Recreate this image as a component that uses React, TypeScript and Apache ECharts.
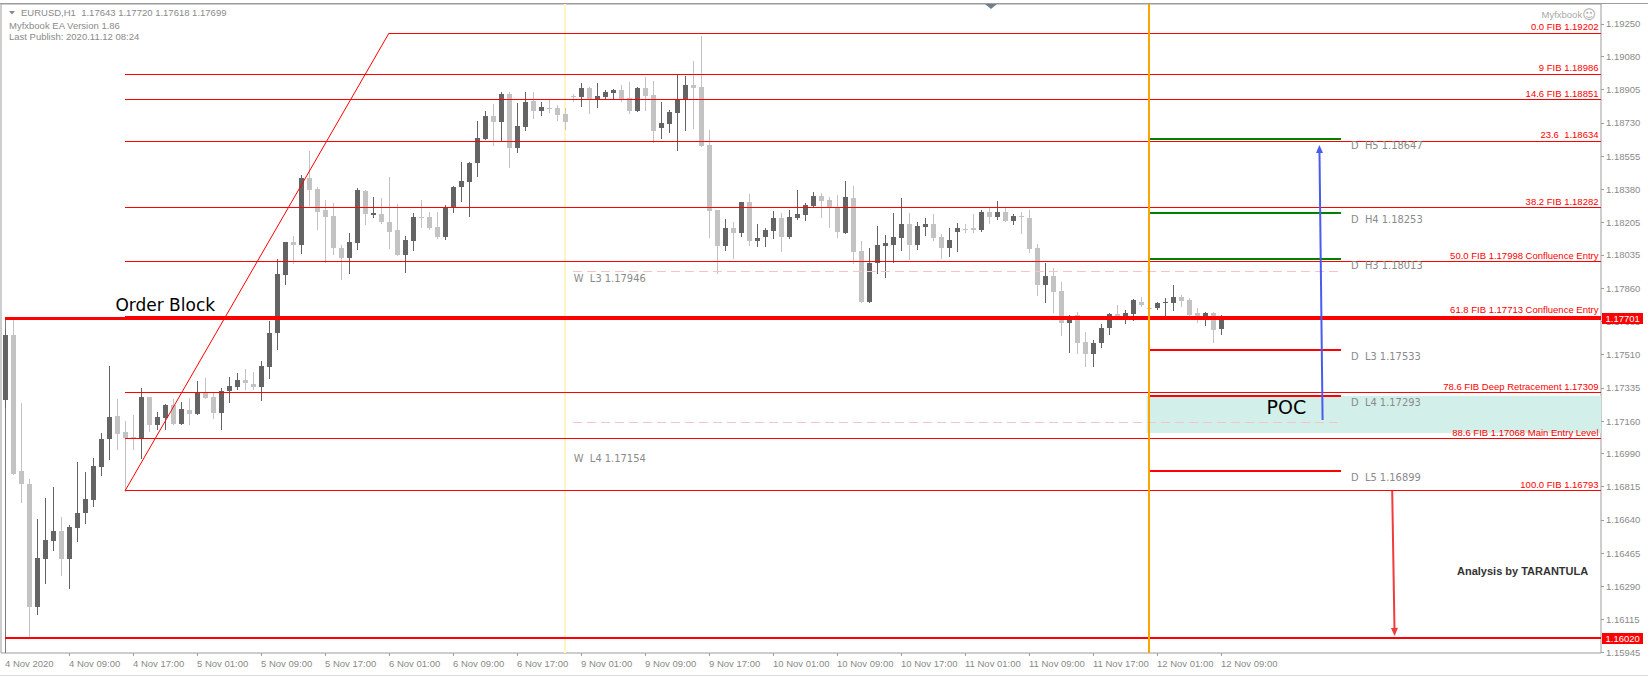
import { useEffect, useRef } from "react";
import * as echarts from "echarts";

// ---------- DATA ----------
// EURUSD H1 candles, 4 Nov 2020 01:00 (bar 0) .. 12 Nov 2020 09:00 (bar 152)
const opens = [
  1.17271, 1.17612, 1.16897, 1.16829, 1.16182, 1.16436, 1.1653, 1.16582, 1.16436, 1.16599,
  1.16676, 1.16746, 1.1692, 1.17064, 1.17187, 1.17103, 1.17078, 1.17071, 1.17287, 1.17141,
  1.17178, 1.17245, 1.17146, 1.17218, 1.17199, 1.1731, 1.17288, 1.17204, 1.1732, 1.17341,
  1.17376, 1.17355, 1.17341, 1.17446, 1.17622, 1.17929, 1.18103, 1.18088, 1.18438, 1.18382,
  1.18271, 1.1824, 1.18073, 1.1802, 1.18099, 1.18371, 1.18246, 1.18248, 1.18206, 1.18166,
  1.18034, 1.1811, 1.18236, 1.18234, 1.18181, 1.18131, 1.18283, 1.18392, 1.1842, 1.18517,
  1.18646, 1.18767, 1.18736, 1.18882, 1.18599, 1.1871, 1.18843, 1.18794, 1.1881, 1.18807,
  1.18776, 1.18873, 1.18867, 1.18913, 1.18854, 1.18867, 1.18889, 1.18903, 1.18859, 1.18792,
  1.18912, 1.18876, 1.18703, 1.18724, 1.18783, 1.1885, 1.18929, 1.18918, 1.18613, 1.18271,
  1.18082, 1.18175, 1.18152, 1.18311, 1.18108, 1.18131, 1.18162, 1.18227, 1.18131, 1.18227,
  1.18245, 1.18292, 1.18345, 1.18324, 1.18285, 1.18152, 1.18334, 1.18055, 1.17789, 1.17994,
  1.18083, 1.18087, 1.18125, 1.18197, 1.18087, 1.18183, 1.18197, 1.18127, 1.18073, 1.18154,
  1.18173, 1.18175, 1.18166, 1.18259, 1.18236, 1.18259, 1.18215, 1.1824, 1.18231, 1.1807,
  1.17876, 1.17924, 1.17845, 1.17675, 1.17719, 1.17575, 1.17512, 1.1757, 1.17648, 1.17722,
  1.1771, 1.17724, 1.17788, 1.17757, 1.17753, 1.1778, 1.17783, 1.17813, 1.17797, 1.17727,
  1.17692, 1.17727, 1.17643,
];
const highs = [
  1.1764, 1.17708, 1.17255, 1.16855, 1.16645, 1.16755, 1.16813, 1.16655, 1.16613, 1.16945,
  1.16892, 1.16966, 1.17097, 1.1745, 1.17276, 1.17161, 1.17192, 1.17334, 1.17289, 1.17208,
  1.1725, 1.17276, 1.17261, 1.17282, 1.17371, 1.17387, 1.17308, 1.17334, 1.17392, 1.17413,
  1.17434, 1.17418, 1.17476, 1.17687, 1.18013, 1.18103, 1.18134, 1.18455, 1.18582, 1.18392,
  1.18324, 1.18308, 1.18087, 1.1815, 1.18387, 1.18376, 1.18339, 1.18334, 1.18445, 1.18303,
  1.18132, 1.18255, 1.18324, 1.18261, 1.18261, 1.18297, 1.18397, 1.18524, 1.18524, 1.1874,
  1.18792, 1.18829, 1.18892, 1.18892, 1.18834, 1.18892, 1.18892, 1.1884, 1.18855, 1.18824,
  1.18808, 1.18882, 1.1894, 1.18918, 1.1894, 1.18903, 1.18908, 1.18929, 1.18945, 1.18918,
  1.18971, 1.1895, 1.1884, 1.18797, 1.18987, 1.18976, 1.19055, 1.19187, 1.18692, 1.18271,
  1.18224, 1.18208, 1.18313, 1.18355, 1.18197, 1.18176, 1.18266, 1.18255, 1.18271, 1.18376,
  1.18308, 1.18366, 1.18361, 1.18339, 1.1835, 1.18424, 1.18397, 1.18108, 1.18071, 1.18187,
  1.1814, 1.18255, 1.18334, 1.18254, 1.18208, 1.18229, 1.1825, 1.18145, 1.18176, 1.18203,
  1.18197, 1.1825, 1.18271, 1.18282, 1.18318, 1.18282, 1.1825, 1.18261, 1.18271, 1.18092,
  1.17992, 1.17966, 1.17892, 1.17719, 1.17734, 1.17629, 1.17587, 1.17671, 1.17729, 1.17771,
  1.17745, 1.17803, 1.17813, 1.17782, 1.17787, 1.17808, 1.17876, 1.17824, 1.17808, 1.17755,
  1.17734, 1.17734, 1.1772,
];
const lows = [
  1.17234, 1.1688, 1.16734, 1.16025, 1.16145, 1.16308, 1.16482, 1.1635, 1.16282, 1.16529,
  1.16624, 1.16713, 1.16876, 1.16961, 1.17013, 1.16793, 1.17013, 1.16966, 1.1711, 1.17119,
  1.17119, 1.17145, 1.17145, 1.17145, 1.17197, 1.17282, 1.17176, 1.17119, 1.17261, 1.17329,
  1.17329, 1.17329, 1.17271, 1.17387, 1.1754, 1.17882, 1.17992, 1.18045, 1.18297, 1.18171,
  1.17997, 1.1804, 1.17908, 1.1794, 1.18066, 1.18197, 1.18234, 1.18203, 1.18071, 1.18034,
  1.17945, 1.18061, 1.18182, 1.18171, 1.18124, 1.18118, 1.18261, 1.18318, 1.1824, 1.1845,
  1.18645, 1.18613, 1.1864, 1.18497, 1.18576, 1.18692, 1.18755, 1.18771, 1.18787, 1.18745,
  1.18697, 1.18845, 1.18818, 1.18782, 1.18813, 1.18855, 1.18855, 1.18845, 1.18782, 1.18792,
  1.18797, 1.18629, 1.1865, 1.18682, 1.18587, 1.18692, 1.18703, 1.18608, 1.18129, 1.1794,
  1.18061, 1.18018, 1.18134, 1.18087, 1.18082, 1.18082, 1.18124, 1.18055, 1.18124, 1.18224,
  1.18218, 1.18287, 1.18234, 1.18182, 1.18129, 1.1815, 1.17992, 1.17787, 1.17787, 1.1794,
  1.17918, 1.17997, 1.18061, 1.18013, 1.18066, 1.1814, 1.18113, 1.18018, 1.18029, 1.18055,
  1.18155, 1.18155, 1.18161, 1.18203, 1.18224, 1.18213, 1.18197, 1.1815, 1.1805, 1.17824,
  1.17787, 1.17734, 1.17613, 1.17524, 1.17518, 1.1745, 1.1745, 1.1755, 1.17618, 1.17708,
  1.17676, 1.17692, 1.17766, 1.17734, 1.1775, 1.17719, 1.17745, 1.17766, 1.17708, 1.17682,
  1.17666, 1.17575, 1.17618,
];
const closes = [
  1.17613, 1.16882, 1.16829, 1.16182, 1.1644, 1.16534, 1.16582, 1.16436, 1.16603, 1.16678,
  1.1675, 1.16925, 1.17066, 1.17182, 1.17094, 1.17073, 1.17071, 1.17287, 1.17141, 1.17182,
  1.17245, 1.17146, 1.17224, 1.17196, 1.1731, 1.17283, 1.17204, 1.1732, 1.17343, 1.17376,
  1.17359, 1.17341, 1.1745, 1.17622, 1.17933, 1.18103, 1.18088, 1.18438, 1.18376, 1.18262,
  1.18236, 1.18073, 1.1802, 1.18101, 1.18376, 1.18248, 1.18253, 1.18206, 1.18157, 1.18034,
  1.18112, 1.18234, 1.1823, 1.18178, 1.18131, 1.18287, 1.18392, 1.18424, 1.18518, 1.1865,
  1.18767, 1.18736, 1.18882, 1.18599, 1.18713, 1.18838, 1.18794, 1.18812, 1.18805, 1.18773,
  1.18736, 1.18869, 1.18912, 1.1885, 1.18871, 1.18891, 1.18903, 1.1885, 1.18792, 1.18912,
  1.18873, 1.18687, 1.18729, 1.18788, 1.18854, 1.18929, 1.18915, 1.18608, 1.18267, 1.18082,
  1.18175, 1.18152, 1.18311, 1.18108, 1.18122, 1.18166, 1.18227, 1.18131, 1.18233, 1.1825,
  1.18297, 1.18345, 1.1832, 1.18283, 1.18155, 1.18339, 1.18052, 1.17789, 1.17994, 1.18087,
  1.18096, 1.18127, 1.18197, 1.18087, 1.18187, 1.18197, 1.18122, 1.18073, 1.18113, 1.18175,
  1.18169, 1.18166, 1.18259, 1.18236, 1.18259, 1.18215, 1.1824, 1.18233, 1.18066, 1.17876,
  1.17924, 1.17841, 1.17675, 1.17715, 1.17573, 1.17512, 1.1757, 1.17648, 1.17722, 1.1771,
  1.17727, 1.17797, 1.17771, 1.17753, 1.1778, 1.17785, 1.17813, 1.17794, 1.17719, 1.17692,
  1.17727, 1.1764, 1.17699,
];

const xTickBars = [0, 8, 16, 24, 32, 40, 48, 56, 64, 72, 80, 88, 96, 104, 112, 120, 128, 136, 144, 152];
const xTickLabels = [
  "4 Nov 2020", "4 Nov 09:00", "4 Nov 17:00", "5 Nov 01:00", "5 Nov 09:00", "5 Nov 17:00",
  "6 Nov 01:00", "6 Nov 09:00", "6 Nov 17:00", "9 Nov 01:00", "9 Nov 09:00", "9 Nov 17:00",
  "10 Nov 01:00", "10 Nov 09:00", "10 Nov 17:00", "11 Nov 01:00", "11 Nov 09:00", "11 Nov 17:00",
  "12 Nov 01:00", "12 Nov 09:00",
];
const yTickValues = [
  1.1925, 1.1908, 1.18905, 1.1873, 1.18555, 1.1838, 1.18205, 1.18035, 1.1786, 1.17685,
  1.1751, 1.17335, 1.1716, 1.1699, 1.16815, 1.1664, 1.16465, 1.1629, 1.16115, 1.15945,
];

const fibPrices = [1.19202, 1.18986, 1.18851, 1.18634, 1.18282, 1.17998, 1.17713, 1.17309, 1.17068, 1.16793];
const fibTexts = [
  "0.0 FIB 1.19202", "9 FIB 1.18986", "14.6 FIB 1.18851", "23.6  1.18634", "38.2 FIB 1.18282",
  "50.0 FIB 1.17998 Confluence Entry", "61.8 FIB 1.17713 Confluence Entry",
  "78.6 FIB Deep Retracement 1.17309", "88.6 FIB 1.17068 Main Entry Level", "100.0 FIB 1.16793",
];
const fibAnchorBars = [15, 48];
const fibLineStartBars = [48, 15, 15, 15, 15, 15, 15, 15, 15, 15];

const orderBlockPrices = [1.17701, 1.1602];
const orderBlockStartBar = 0;

const dailyPivotNames = ["H5", "H4", "H3", "L3", "L4", "L5"];
const dailyPivotPrices = [1.18647, 1.18253, 1.18013, 1.17533, 1.17293, 1.16899];
const dailyPivotBars = [143, 167];
const dailyPivotLabelBar = 168.25;

const weeklyPivotNames = ["L3", "L4"];
const weeklyPivotPrices = [1.17946, 1.17154];
const weeklyPivotBars = [71, 167];

const pocRange = [1.17293, 1.17098];
const pocStartBar = 142.7;
const pocLabel = { bar: 157.7, price: 1.17236 };
const orderBlockLabelBar = 13.8;

const dayStartBar = 143;
const weekEndBar = 70;

const blueArrow: [number, number][] = [[164.7, 1.17166], [164.3, 1.18613]];
const redArrow: [number, number][] = [[173.4, 1.16793], [173.7, 1.1603]];

const axisPriceTags = [1.17701, 1.1602];

// ---------- LAYOUT / STYLE ----------
const X_MIN = -0.5;
const X_MAX = 199.5;
const Y_MIN = 1.1594;
const Y_MAX = 1.19355;
const FONT = "'Liberation Sans', Arial, sans-serif";
const LABEL_FONT = "11px 'DejaVu Sans Condensed', 'Liberation Sans', Arial, sans-serif";
const weeklyLabelDy = [6.7, 36];
const RED = "#ff0000";
const GREEN = "#008000";
const BULL = "#646464";
const BEAR = "#c3c3c3";

type Seg = [number, number, number, number];

function crisp(v: number, w: number) {
  return Math.round(w) % 2 === 1 ? Math.floor(v) + 0.5 : Math.round(v);
}

function segmentSeries(segs: Seg[], style: any, z: number) {
  return {
    type: "custom",
    z,
    silent: true,
    clip: false,
    data: segs,
    renderItem: (params: any, api: any) => {
      const s = segs[params.dataIndex];
      const a = api.coord([s[0], s[1]]);
      const b = api.coord([s[2], s[3]]);
      let x1 = a[0], y1 = a[1], x2 = b[0], y2 = b[1];
      if (s[1] === s[3]) { y1 = y2 = crisp(a[1], style.lineWidth); }
      if (s[0] === s[2]) { x1 = x2 = crisp(a[0], style.lineWidth); }
      return { type: "line", shape: { x1, y1, x2, y2 }, style: { ...style, fill: null } };
    },
  };
}

interface TextItem { bar: number; price: number; text: string; dx: number; dy: number }

function textSeries(items: TextItem[], style: any, z: number) {
  return {
    type: "custom",
    z,
    silent: true,
    clip: false,
    data: items.map((t) => [t.bar, t.price]),
    renderItem: (params: any, api: any) => {
      const t = items[params.dataIndex];
      const p = api.coord([t.bar, t.price]);
      return {
        type: "text",
        style: {
          text: t.text,
          x: p[0] + t.dx,
          y: p[1] + t.dy,
          fill: style.fill,
          font: style.font,
          align: style.align,
          verticalAlign: style.verticalAlign,
          textAlign: style.align,
          textVerticalAlign: style.verticalAlign,
        },
      };
    },
  };
}

function arrowSeries(pts: [number, number][], color: string, z: number) {
  return {
    type: "custom",
    z,
    silent: true,
    clip: false,
    data: [[pts[0][0], pts[0][1], pts[1][0], pts[1][1]]],
    renderItem: (_params: any, api: any) => {
      const a = api.coord(pts[0]);
      const b = api.coord(pts[1]);
      const ang = Math.atan2(b[1] - a[1], b[0] - a[0]);
      const L = 8, W = 3.5;
      const bx = b[0] - L * Math.cos(ang), by = b[1] - L * Math.sin(ang);
      const px = -Math.sin(ang) * W, py = Math.cos(ang) * W;
      return {
        type: "group",
        children: [
          { type: "line", shape: { x1: a[0], y1: a[1], x2: bx, y2: by }, style: { stroke: color, lineWidth: 2 } },
          { type: "polygon", shape: { points: [[b[0], b[1]], [bx + px, by + py], [bx - px, by - py]] }, style: { fill: color } },
        ],
      };
    },
  };
}

function buildOption() {
  const candleData = opens.map((o, i) => [i, o, closes[i], lows[i], highs[i]]);

  const candleSeries = {
    type: "custom",
    z: 3,
    silent: true,
    data: candleData,
    renderItem: (params: any, api: any) => {
      const i = params.dataIndex;
      const o = opens[i], c = closes[i], h = highs[i], l = lows[i];
      const cx = Math.round(api.coord([i, o])[0]);
      const yO = Math.round(api.coord([i, o])[1]);
      const yC = Math.round(api.coord([i, c])[1]);
      const yH = Math.round(api.coord([i, h])[1]);
      const yL = Math.round(api.coord([i, l])[1]);
      const col = c >= o ? BULL : BEAR;
      const top = Math.min(yO, yC);
      const bot = Math.max(yO, yC);
      return {
        type: "group",
        children: [
          { type: "rect", shape: { x: cx, y: yH, width: 1, height: Math.max(1, yL - yH + 1) }, style: { fill: col } },
          { type: "rect", shape: { x: cx - 2, y: top, width: 5, height: Math.max(1, bot - top) }, style: { fill: col } },
        ],
      };
    },
  };

  const fibSegs: Seg[] = fibPrices.map((p, k) => [fibLineStartBars[k], p, X_MAX, p]);
  const trendSeg: Seg[] = [[fibAnchorBars[0], fibPrices[fibPrices.length - 1], fibAnchorBars[1], fibPrices[0]]];
  const obTopSeg: Seg[] = [[orderBlockStartBar, orderBlockPrices[0], X_MAX, orderBlockPrices[0]]];
  const obBotSeg: Seg[] = [[orderBlockStartBar, orderBlockPrices[1], X_MAX, orderBlockPrices[1]]];
  const obEdgeSeg: Seg[] = [[orderBlockStartBar, orderBlockPrices[0], orderBlockStartBar, Y_MIN]];
  const greenSegs: Seg[] = [];
  const redPivotSegs: Seg[] = [];
  dailyPivotPrices.forEach((p, k) => {
    const seg: Seg = [dailyPivotBars[0], p, dailyPivotBars[1], p];
    if (dailyPivotNames[k].startsWith("H")) greenSegs.push(seg);
    else redPivotSegs.push(seg);
  });
  const weeklySegs: Seg[] = weeklyPivotPrices.map((p) => [weeklyPivotBars[0], p, weeklyPivotBars[1], p]);

  const pocSeries = {
    type: "custom",
    z: 1,
    silent: true,
    clip: false,
    data: [[pocStartBar, pocRange[0], X_MAX, pocRange[1]]],
    renderItem: (_p: any, api: any) => {
      const a = api.coord([pocStartBar, pocRange[0]]);
      const b = api.coord([X_MAX, pocRange[1]]);
      return { type: "rect", shape: { x: a[0], y: a[1], width: b[0] - a[0], height: b[1] - a[1] }, style: { fill: "#d3efe9" } };
    },
  };

  const fibLabels: TextItem[] = fibPrices.map((p, k) => ({ bar: X_MAX, price: p, text: fibTexts[k], dx: -2.5, dy: -6.6 }));
  const dailyLabels: TextItem[] = dailyPivotPrices.map((p, k) => ({
    bar: dailyPivotLabelBar, price: p, text: `D  ${dailyPivotNames[k]} ${p.toFixed(5)}`, dx: 0, dy: 6.5,
  }));
  const weeklyLabels: TextItem[] = weeklyPivotPrices.map((p, k) => ({
    bar: weeklyPivotBars[0] + 0.1, price: p, text: `W  ${weeklyPivotNames[k]} ${p.toFixed(5)}`, dx: 0, dy: weeklyLabelDy[k],
  }));

  const priceTagSeries = {
    type: "custom",
    z: 20,
    silent: true,
    clip: false,
    data: axisPriceTags.map((p) => [X_MAX, p]),
    renderItem: (params: any, api: any) => {
      const p = axisPriceTags[params.dataIndex];
      const pt = api.coord([X_MAX, p]);
      const y = Math.round(pt[1]);
      return {
        type: "group",
        children: [
          { type: "rect", shape: { x: pt[0] + 1, y: y - 5, width: 41, height: 11 }, style: { fill: RED } },
          {
            type: "text",
            style: {
              text: p.toFixed(5), x: pt[0] + 4.5, y: y + 0.5, fill: "#ffffff", font: `9.5px ${FONT}`,
              align: "left", verticalAlign: "middle", textAlign: "left", textVerticalAlign: "middle",
            },
          },
        ],
      };
    },
  };

  const headerText = `EURUSD,H1  ${opens[152].toFixed(5)} ${highs[152].toFixed(5)} ${lows[152].toFixed(5)} ${closes[152].toFixed(5)}`;
  const hdr = (text: string, x: number, y: number, fill = "#8a8a8a", font = `9.5px ${FONT}`, align = "left") => ({
    type: "text",
    silent: true,
    z: 50,
    style: { text, x, y, fill, font, align, verticalAlign: "middle", textAlign: align, textVerticalAlign: "middle" },
  });

  return {
    animation: false,
    backgroundColor: "#ffffff",
    grid: {
      left: 1, top: 4, width: 1600, height: 649,
      show: true, borderColor: "#9c9c9c", borderWidth: 1, backgroundColor: "#ffffff",
    },
    xAxis: {
      type: "value",
      min: X_MIN,
      max: X_MAX,
      position: "bottom",
      axisLine: { show: false },
      splitLine: { show: false },
      axisTick: { show: true, customValues: xTickBars.slice(1), length: 3, lineStyle: { color: "#9c9c9c" } },
      axisLabel: {
        customValues: xTickBars,
        formatter: (v: number) => {
          const k = xTickBars.indexOf(Math.round(v));
          return k >= 0 ? xTickLabels[k] : "";
        },
        color: "#8a8a8a",
        fontSize: 9.5,
        fontFamily: FONT,
        align: "left",
        margin: 5,
      },
    },
    yAxis: {
      type: "value",
      position: "right",
      min: Y_MIN,
      max: Y_MAX,
      axisLine: { show: false, onZero: false },
      splitLine: { show: false },
      axisTick: { show: true, customValues: yTickValues, length: 3, lineStyle: { color: "#9c9c9c" } },
      axisLabel: {
        customValues: yTickValues,
        formatter: (v: number) => v.toFixed(5),
        color: "#8a8a8a",
        fontSize: 9.5,
        fontFamily: FONT,
        margin: 5,
      },
    },
    series: [
      pocSeries,
      segmentSeries([[weekEndBar, Y_MIN, weekEndBar, Y_MAX]], { stroke: "#fff6c4", lineWidth: 2 }, 1),
      segmentSeries(obEdgeSeg, { stroke: "#7a7a7a", lineWidth: 1 }, 2),
      candleSeries,
      segmentSeries(weeklySegs, { stroke: "#f6c4c4", lineWidth: 1, lineDash: [9, 5] }, 4),
      segmentSeries(fibSegs, { stroke: RED, lineWidth: 1 }, 5),
      segmentSeries(trendSeg, { stroke: RED, lineWidth: 1 }, 5),
      segmentSeries(obTopSeg, { stroke: RED, lineWidth: 3 }, 6),
      segmentSeries(obBotSeg, { stroke: RED, lineWidth: 2 }, 6),
      segmentSeries(greenSegs, { stroke: GREEN, lineWidth: 2 }, 6),
      segmentSeries(redPivotSegs, { stroke: RED, lineWidth: 2 }, 6),
      segmentSeries([[dayStartBar, Y_MIN, dayStartBar, Y_MAX]], { stroke: "#ffa500", lineWidth: 2 }, 7),
      arrowSeries(blueArrow, "#4a5cf0", 8),
      arrowSeries(redArrow, "#f03c3c", 8),
      textSeries(fibLabels, { fill: RED, font: `9.5px ${FONT}`, align: "right", verticalAlign: "middle" }, 9),
      textSeries(dailyLabels, { fill: "#8a8a8a", font: LABEL_FONT, align: "left", verticalAlign: "middle" }, 9),
      textSeries(weeklyLabels, { fill: "#8a8a8a", font: LABEL_FONT, align: "left", verticalAlign: "middle" }, 9),
      textSeries(
        [{ bar: orderBlockLabelBar, price: orderBlockPrices[0], text: "Order Block", dx: 0, dy: -13 }],
        { fill: "#000000", font: `17px 'DejaVu Sans', sans-serif`, align: "left", verticalAlign: "middle" },
        9,
      ),
      textSeries(
        [{ bar: pocLabel.bar, price: pocLabel.price, text: "POC", dx: 0, dy: 0 }],
        { fill: "#000000", font: `19px 'DejaVu Sans', sans-serif`, align: "left", verticalAlign: "middle" },
        9,
      ),
      priceTagSeries,
    ],
    graphic: [
      { type: "line", silent: true, z: 40, shape: { x1: 0, y1: 3.5, x2: 1648, y2: 3.5 }, style: { stroke: "#9c9c9c", lineWidth: 1 } },
      { type: "line", silent: true, z: 40, shape: { x1: 0, y1: 675.5, x2: 1648, y2: 675.5 }, style: { stroke: "#dcdcdc", lineWidth: 1 } },
      { type: "polygon", silent: true, z: 50, shape: { points: [[9, 11], [15, 11], [12, 14.5]] }, style: { fill: "#8a8a8a" } },
      { type: "polygon", silent: true, z: 50, shape: { points: [[985, 4], [997, 4], [991, 9]] }, style: { fill: "#6f7f8c" } },
      hdr(headerText, 21, 12.7),
      hdr("Myfxbook EA Version 1.86", 9, 25.7),
      hdr("Last Publish: 2020.11.12 08:24", 9, 36.7),
      hdr("Myfxbook", 1541.5, 14, "#a8a8a8"),
      hdr("\u263A", 1589, 14, "#a8a8a8", `13px 'DejaVu Sans', sans-serif`, "center"),
      hdr("Analysis by TARANTULA", 1457, 571, "#333333", `bold 11px ${FONT}`),
    ],
  };
}

export default function App() {
  const ref = useRef<HTMLDivElement>(null);
  useEffect(() => {
    if (!ref.current) return;
    const chart = echarts.init(ref.current, null, { renderer: "svg", width: 1648, height: 677 });
    chart.setOption(buildOption() as any);
    return () => chart.dispose();
  }, []);
  return (
    <div
      ref={ref}
      style={{ position: "fixed", left: 0, top: 0, width: 1648, height: 677, background: "#ffffff" }}
    />
  );
}
